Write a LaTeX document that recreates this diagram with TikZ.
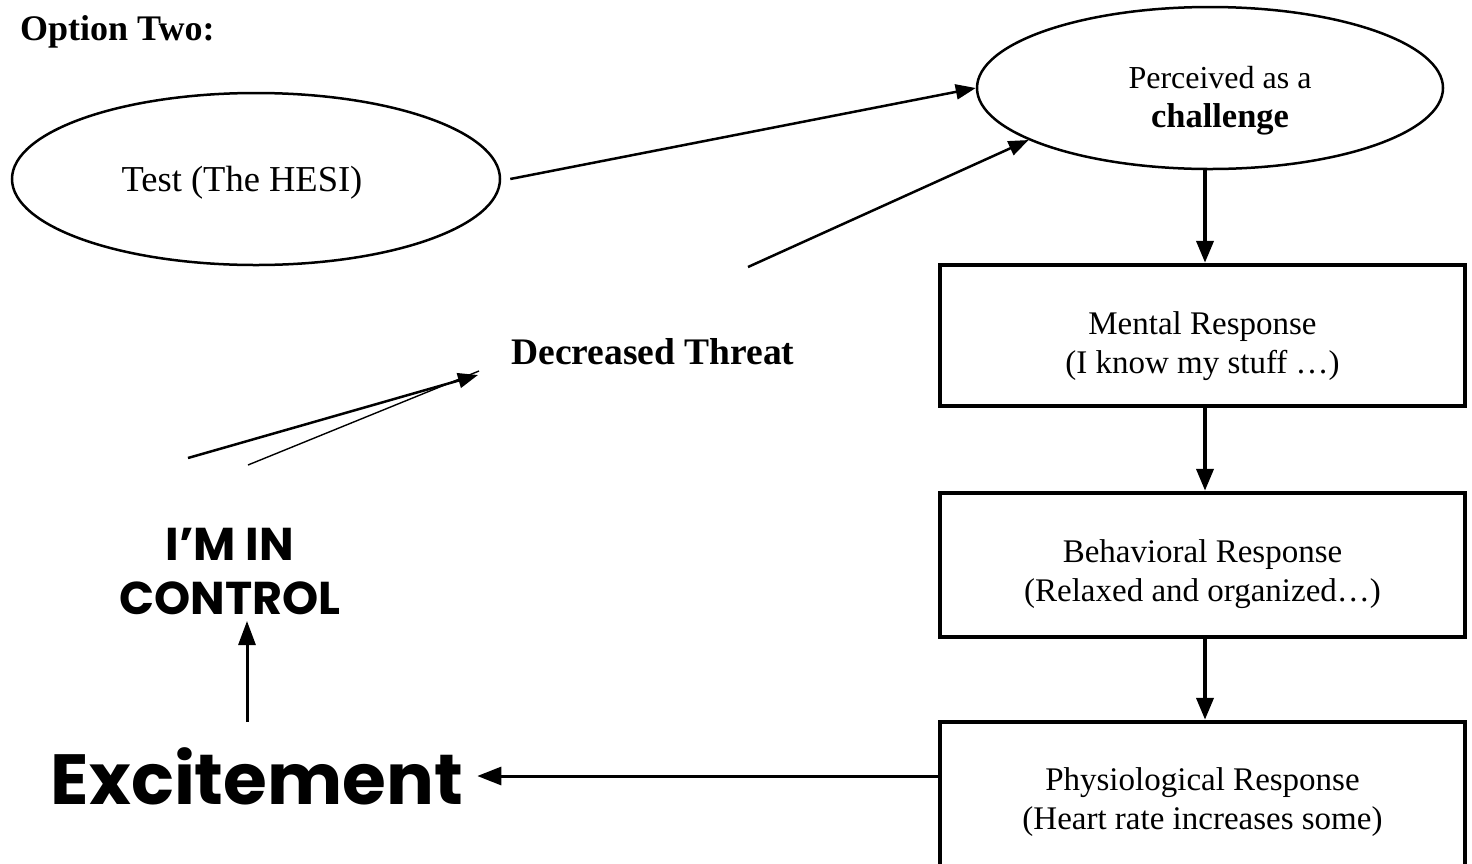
\documentclass[tikz,border=0pt]{standalone}
\usepackage{fontspec}
\setmainfont{Liberation Serif}
\newfontfamily\fancyfont{Poppins}
\usetikzlibrary{arrows.meta,shapes.geometric}
\newcommand{\bodyfont}{\fontsize{33}{39}\selectfont}
\begin{document}
\begin{tikzpicture}[x=1pt,y=-1pt,
  ell/.style={ellipse, draw, line width=2.5pt, inner sep=0pt},
  resp/.style={rectangle, draw, line width=4.5pt, minimum width=525pt, inner sep=0pt},
  txt/.style={align=center, font=\bodyfont, inner sep=0pt},
  arr/.style={line width=2.5pt, -{Triangle[length=20pt,width=15pt]}},
  varr/.style={line width=4pt, -{Triangle[length=22pt,width=17pt]}},
  fancy/.style={align=center, inner sep=0pt, font=\fancyfont\bfseries}
]
\useasboundingbox (0,0) rectangle (1472,863);
\fill[white] (0,0) rectangle (1472,863);

\node[anchor=base west, inner sep=0pt, font=\fontsize{36}{40}\selectfont\bfseries] (title) at (20,40) {Option Two:};

\node[ell, minimum width=488pt, minimum height=172pt] (test) at (256,179) {};
\node[txt, font=\fontsize{36.5}{40}\selectfont] (testt) at (242,183) {Test (The HESI)};

\node[ell, minimum width=466pt, minimum height=162pt] (perc) at (1210,88) {};
\node[txt, font=\fontsize{32}{39}\selectfont] (perct) at (1220,101) {Perceived as a\\{\fontsize{34.5}{39}\selectfont\bfseries challenge}};

\node[resp, minimum height=141pt] (ment) at (1202.5,335.5) {};
\node[txt] (mentt) at (1202.5,346) {Mental Response\\(I know my stuff \dots)};

\node[resp, minimum height=144pt] (beh) at (1202.5,565) {};
\node[txt] (beht) at (1202.5,574) {Behavioral Response\\(Relaxed and organized\dots)};

\node[resp, minimum height=180pt] (phys) at (1202.5,812) {};
\node[txt] (physt) at (1202.5,802) {Physiological Response\\(Heart rate increases some)};

\node[txt, font=\fontsize{37.5}{40}\selectfont\bfseries] (dec) at (653,352) {Decreased Threat};

\node[fancy, font=\fancyfont\bfseries\fontsize{46}{54}\selectfont] (ctrl) at (230,572) {I’M IN\\CONTROL};
\node[fancy, font=\fancyfont\bfseries\fontsize{71}{71}\selectfont] (ex) at (257,776) {Excitement};

% connectors
\draw[arr] ([xshift=9pt]test.east) -- (perc.west);
\coordinate (d2s) at (748,267);
\draw[arr] (d2s) -- (perc.196);
\coordinate (d1s) at (188,458);
\coordinate (d1e) at (478,375);
\coordinate (d3s) at (248,465);
\coordinate (d3e) at (479,371);
\draw[arr] (d1s) -- (d1e);
\draw[line width=1.4pt] (d3s) -- (d3e);

\draw[varr] (perc.south -| 1205,0) -- (ment.north -| 1205,0);
\draw[varr] (ment.south -| 1205,0) -- (beh.north -| 1205,0);
\draw[varr] (beh.south -| 1205,0) -- (phys.north -| 1205,0);

\draw[line width=3pt, -{Triangle[length=24pt,width=18pt]}] (ex -| phys.west) -- ([xshift=14pt]ex.east);
\coordinate (us) at (247,722);
\coordinate (ue) at (247,621);
\draw[line width=3pt, -{Triangle[length=24pt,width=17pt]}] (us) -- (ue);
\end{tikzpicture}
\end{document}
